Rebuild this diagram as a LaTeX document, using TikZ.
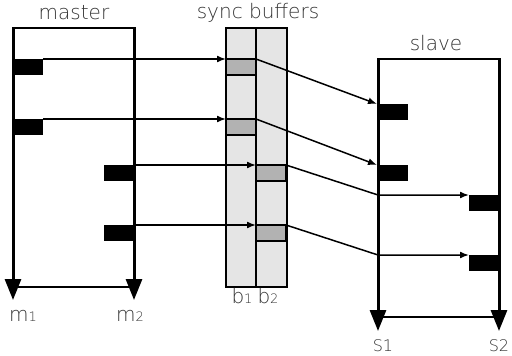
\documentclass[tikz,border=0pt]{standalone}
\usepackage{fontspec}
\setmainfont{DejaVu Sans ExtraLight}
\usetikzlibrary{arrows.meta}
\newcommand{\lsub}[1]{{\fontsize{13}{13}\selectfont #1}}
\tikzset{
  lbl/.style={text=black!80, font=\fontsize{20}{24}\selectfont, inner sep=0pt},
  tline/.style={line width=3pt, -{Triangle[width=16pt,length=21pt]}},
  frame/.style={line width=2pt},
  conn/.style={line width=1.5pt, -{Latex[length=9pt,width=7pt]}},
  blk/.style={fill=black, minimum width=31pt, minimum height=16pt, inner sep=0pt, outer sep=0pt},
  cell/.style={fill=black!30, draw=black, line width=1.5pt, minimum width=30pt, minimum height=16pt, inner sep=0pt, outer sep=0pt}
}
\begin{document}
\begin{tikzpicture}[x=1pt,y=-1pt]
  \useasboundingbox (0,0) rectangle (512,356);
  % Titles
  \node[lbl] (lmaster) at (74,13) {master};
  \node[lbl] (lsync) at (258,13) {sync buffers};
  \node[lbl] (lslave) at (436,43) {slave};
  % Master
  \draw[frame] (13,28) -- (134,28);
  \draw[frame] (13,287) -- (134,287);
  \draw[tline] (13,27) -- (13,300);
  \draw[tline] (134,27) -- (134,300);
  \node[blk, anchor=north west] (mb1) at (12,59) {};
  \node[blk, anchor=north west] (mb2) at (12,119) {};
  \node[blk, anchor=north east] (mb3) at (135,165) {};
  \node[blk, anchor=north east] (mb4) at (135,225) {};
  \node[lbl] (lm1) at (23,316) {m\lsub{1}};
  \node[lbl] (lm2) at (130,316) {m\lsub{2}};
  % Sync buffers
  \draw[fill=black!10, line width=1.5pt] (226,28) rectangle (287,287);
  \draw[line width=1.5pt] (256,28) -- (256,287);
  \node[cell, anchor=north west] (bc1) at (226,59) {};
  \node[cell, anchor=north west] (bc2) at (226,119) {};
  \node[cell, anchor=north west] (bc3) at (256,165) {};
  \node[cell, anchor=north west] (bc4) at (256,225) {};
  \node[lbl] (lb1) at (242,296) {b\lsub{1}};
  \node[lbl] (lb2) at (268,296) {b\lsub{2}};
  % Slave
  \draw[frame] (378,59) -- (499,59);
  \draw[frame] (378,317) -- (499,317);
  \draw[tline] (378,58) -- (378,331);
  \draw[tline] (499,58) -- (499,331);
  \node[blk, anchor=north west] (sb1) at (377,104) {};
  \node[blk, anchor=north west] (sb2) at (377,165) {};
  \node[blk, anchor=north east] (sb3) at (500,195) {};
  \node[blk, anchor=north east] (sb4) at (500,255) {};
  \coordinate (j3) at (378,195);
  \coordinate (j4) at (378,255);
  \node[lbl, font=\fontsize{16}{18}\selectfont] (ls1) at (383,346) {S1};
  \node[lbl, font=\fontsize{16}{18}\selectfont] (ls2) at (499,346) {S2};
  % Master -> buffers
  \draw[conn] (mb1.north east) -- (bc1.north west);
  \draw[conn] (mb2.north east) -- (bc2.north west);
  \draw[conn] (mb3.north east) -- (bc3.north west);
  \draw[conn] (mb4.north east) -- (bc4.north west);
  % Buffers -> slave
  \draw[conn] (bc1.north east) -- (sb1.north west);
  \draw[conn] (bc2.north east) -- (sb2.north west);
  \draw[conn] (bc3.north east) -- (j3) -- (sb3.north west);
  \draw[conn] (bc4.north east) -- (j4) -- (sb4.north west);
\end{tikzpicture}
\end{document}
